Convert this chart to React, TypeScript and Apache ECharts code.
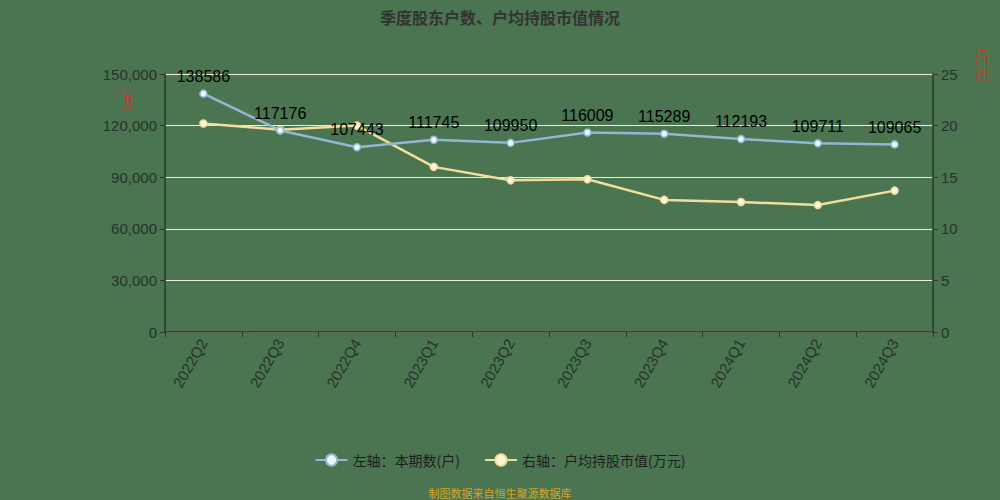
import { useEffect, useRef } from "react";
import * as echarts from "echarts";

const quarters = [
  "2022Q2", "2022Q3", "2022Q4", "2023Q1", "2023Q2",
  "2023Q3", "2023Q4", "2024Q1", "2024Q2", "2024Q3",
];
// 本期数(户)
const holders = [
  138586, 117176, 107443, 111745, 109950,
  116009, 115289, 112193, 109711, 109065,
];
// 户均持股市值(万元)
const avgValue = [20.2, 19.6, 20.0, 16.0, 14.7, 14.8, 12.8, 12.6, 12.3, 13.7];

const BG = "#4a7550";
const BLUE = "#93b6d6";
const YELLOW = "#f3dd9c";
const AXIS_TEXT = "#27332a";
const AXIS_LINE = "#2a3a2c";

export default function App() {
  const chartRef = useRef<HTMLDivElement>(null);

  useEffect(() => {
    if (!chartRef.current) return;
    const chart = echarts.init(chartRef.current, null, { renderer: "svg" });

    chart.setOption({
      animation: false,
      backgroundColor: BG,
      title: {
        text: "季度股东户数、户均持股市值情况",
        left: "center",
        top: 4,
        textStyle: {
          color: "#333",
          fontSize: 16,
          fontWeight: "bold",
          fontFamily: "Noto Sans CJK SC",
        },
      },
      grid: { left: 165, right: 67, top: 74, bottom: 168 },
      legend: {
        bottom: 28,
        left: "center",
        itemWidth: 32,
        itemHeight: 14,
        itemGap: 24,
        textStyle: { color: "#1e1e1e", fontSize: 14, fontFamily: "Noto Sans CJK SC" },
        data: ["左轴：本期数(户)", "右轴：户均持股市值(万元)"],
      },
      xAxis: {
        type: "category",
        data: quarters,
        boundaryGap: true,
        axisLine: { lineStyle: { color: AXIS_LINE, width: 1.5 } },
        axisTick: { show: true, lineStyle: { color: AXIS_LINE } },
        axisLabel: {
          color: AXIS_TEXT,
          fontSize: 15,
          rotate: 60,
          margin: 8,
          fontFamily: "Liberation Sans",
        },
      },
      yAxis: [
        {
          type: "value",
          min: 0,
          max: 150000,
          interval: 30000,
          axisLine: { show: true, lineStyle: { color: AXIS_LINE, width: 1.5 } },
          axisTick: { show: true, lineStyle: { color: AXIS_LINE } },
          splitLine: { lineStyle: { color: "#e6eedc", width: 1 } },
          axisLabel: {
            color: AXIS_TEXT,
            fontSize: 15,
            fontFamily: "Liberation Sans",
            formatter: (v: number) => v.toLocaleString("en-US"),
          },
        },
        {
          type: "value",
          min: 0,
          max: 25,
          interval: 5,
          axisLine: { show: true, lineStyle: { color: AXIS_LINE, width: 1.5 } },
          axisTick: { show: true, lineStyle: { color: AXIS_LINE } },
          splitLine: { show: false },
          axisLabel: { color: AXIS_TEXT, fontSize: 15, fontFamily: "Liberation Sans" },
        },
      ],
      series: [
        {
          name: "左轴：本期数(户)",
          type: "line",
          yAxisIndex: 0,
          data: holders,
          symbol: "circle",
          symbolSize: 7,
          lineStyle: { color: BLUE, width: 2.5 },
          itemStyle: { color: "#eef6fb", borderColor: BLUE, borderWidth: 1.5 },
          label: {
            show: true,
            position: "top",
            distance: 5,
            color: "#000",
            fontSize: 16,
            fontFamily: "Liberation Sans",
          },
          z: 3,
        },
        {
          name: "右轴：户均持股市值(万元)",
          type: "line",
          yAxisIndex: 1,
          data: avgValue,
          symbol: "circle",
          symbolSize: 7,
          lineStyle: { color: YELLOW, width: 2.5 },
          itemStyle: { color: "#fbf5de", borderColor: YELLOW, borderWidth: 1.5 },
          z: 2,
        },
      ],
      graphic: [
        {
          type: "text",
          x: 127,
          y: 100,
          rotation: -Math.PI / 2,
          style: {
            text: "(户)",
            fill: "#d8342a",
            fontSize: 13,
            fontFamily: "Noto Sans CJK SC",
            align: "center",
            verticalAlign: "middle",
          },
        },
        {
          type: "text",
          x: 983,
          y: 66,
          rotation: -Math.PI / 2,
          style: {
            text: "(万元)",
            fill: "#d8342a",
            fontSize: 13,
            fontFamily: "Noto Sans CJK SC",
            align: "center",
            verticalAlign: "middle",
          },
        },
        {
          type: "text",
          x: 500,
          y: 493,
          style: {
            text: "制图数据来自恒生聚源数据库",
            fill: "#d9a423",
            fontSize: 11,
            fontFamily: "Noto Sans CJK SC",
            align: "center",
            verticalAlign: "middle",
          },
        },
      ],
    });

    return () => chart.dispose();
  }, []);

  return (
    <div
      ref={chartRef}
      style={{ position: "fixed", left: 0, top: 0, width: 1000, height: 500 }}
    />
  );
}
